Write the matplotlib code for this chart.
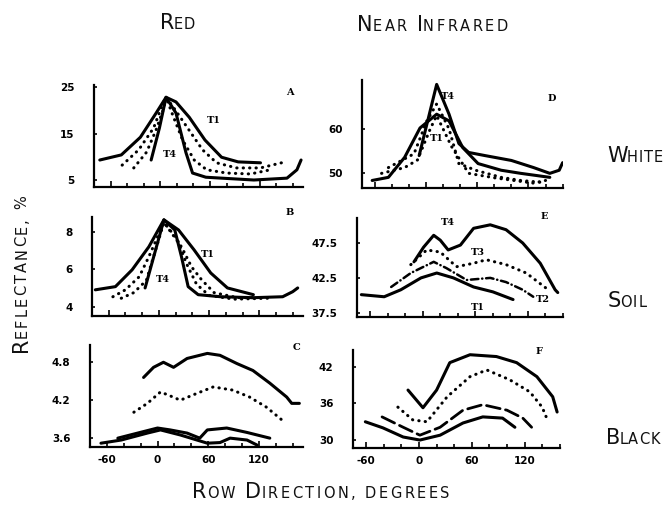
import numpy as np
import matplotlib
matplotlib.use("Agg")
import matplotlib.pyplot as plt

# --- Red band ---------------------------------------------------------------
a_t1_x = [-73, -47, -24, -5, 7, 19, 35, 54, 74, 94, 121]
a_t1_y = [9.3, 10.4, 14.2, 19.4, 22.8, 21.8, 18.5, 13.6, 9.9, 8.9, 8.7]
a_t2_x = [-46, -26, -8, 3.5, 7, 18, 33, 51, 68, 92, 121, 151]
a_t2_y = [8.2, 11.5, 16.2, 21.6, 22.8, 20.1, 16.2, 11.5, 8.7, 7.6, 7.6, 8.9]
a_t3_x = [-32, -16.5, -5, 3.5, 7, 15, 27, 41, 56, 80, 109, 133]
a_t3_y = [7.6, 11.0, 15.8, 20.1, 22.8, 19.0, 13.6, 9.3, 7.2, 6.5, 6.3, 7.2]
a_t4_x = [-11, -1, 7, 19, 31, 39, 55, 74, 113, 153, 165, 170]
a_t4_y = [9.3, 16.2, 22.8, 19.4, 10.9, 6.5, 5.6, 5.4, 5.0, 5.4, 7.2, 9.3]

b_t1_x = [-76, -52, -32, -12, 6, 23.5, 42, 62, 82, 113]
b_t1_y = [4.9, 5.07, 5.97, 7.2, 8.64, 8.1, 7.04, 5.8, 5.0, 4.64]
b_t2_x = [-55, -40, -23.5, -12, 6, 27, 39, 51, 66, 94, 113]
b_t2_y = [4.53, 4.9, 5.6, 6.67, 8.5, 7.2, 6.13, 5.44, 4.75, 4.48, 4.48]
b_t3_x = [-45, -30, -15, 6, 22, 33, 45, 60, 90, 130]
b_t3_y = [4.45, 4.75, 5.4, 8.5, 7.6, 6.3, 5.2, 4.6, 4.4, 4.45]
b_t4_x = [-16.5, 6, 19, 27, 35, 47, 74, 113, 148, 160, 166]
b_t4_y = [5.0, 8.64, 8.1, 6.67, 5.07, 4.64, 4.53, 4.48, 4.53, 4.8, 5.0]

c_1_x = [-16.5, -4.7, 7, 19, 35, 59, 74, 94, 113, 133, 153, 159, 168]
c_1_y = [4.56, 4.72, 4.8, 4.72, 4.86, 4.94, 4.91, 4.78, 4.67, 4.47, 4.25, 4.15, 4.15]
c_2_x = [-28, -12, 3.5, 13, 27, 47, 66, 89, 109, 129, 148]
c_2_y = [4.01, 4.15, 4.33, 4.28, 4.2, 4.31, 4.41, 4.36, 4.25, 4.09, 3.88]
c_3_x = [-47, -23.5, 0, 15, 35, 50, 59, 82, 106, 133]
c_3_y = [3.6, 3.68, 3.76, 3.73, 3.68, 3.6, 3.73, 3.76, 3.69, 3.6]
c_4_x = [-67, -43, -12, 3.5, 27, 59, 74, 86, 106, 118]
c_4_y = [3.52, 3.57, 3.68, 3.73, 3.65, 3.52, 3.53, 3.6, 3.57, 3.49]

# --- Near infrared band -----------------------------------------------------
d_t1_x = [-63, -44, -25, -7, 12.5, 27, 43, 61, 88, 111, 145]
d_t1_y = [48.4, 49.1, 53.6, 60.2, 63.3, 61.8, 55.8, 52.2, 50.7, 50.0, 49.1]
d_t2_x = [-44, -14, 1, 12.5, 27, 38.5, 58, 88, 111, 134]
d_t2_y = [51.3, 54.4, 61.8, 65.6, 60, 52.2, 50.7, 49.1, 48.4, 48]
d_t3_x = [-52, -25, -10, 5, 12.5, 30, 50, 80, 126, 140]
d_t3_y = [50, 51.3, 53, 60, 63, 56, 50, 49, 47.8, 48.4]
d_t4_x = [-8, 12.5, 27, 38.5, 50, 69, 100, 126, 145, 156, 160]
d_t4_y = [54, 70, 63.3, 56.7, 54.7, 54, 52.9, 51.3, 50, 50.7, 52.4]

e_t1_x = [-70, -44, -25, -2, 16, 35, 58, 80, 103]
e_t1_y = [40.1, 39.8, 40.8, 42.5, 43.2, 42.5, 41.2, 40.5, 39.4]
e_t2_x = [-36, -13.6, 12.5, 27, 50, 77, 95, 114, 126]
e_t2_y = [41.2, 43.2, 44.8, 43.9, 42.2, 42.5, 41.9, 40.8, 39.8]
e_t3_x = [-13.6, 4.5, 20, 38.5, 58, 72.5, 95, 118, 140]
e_t3_y = [44.4, 46.5, 46.2, 44.1, 44.6, 45.1, 44.4, 43.2, 41.1]
e_t4_x = [-10, 1, 12.5, 20, 29, 43, 58, 77, 95, 114, 134, 151, 154]
e_t4_y = [44.8, 46.9, 48.6, 47.9, 46.5, 47.2, 49.6, 50.1, 49.4, 47.5, 44.6, 40.8, 40.4]

f_1_x = [-12.5, 4.5, 20, 35, 58, 88, 111, 134, 152, 157]
f_1_y = [38.2, 35.3, 38.2, 42.7, 44.0, 43.7, 42.7, 40.4, 37.1, 34.6]
f_2_x = [-24, -7, 9, 32, 58, 77, 103, 126, 140, 146]
f_2_y = [35.4, 33.3, 33, 37.1, 40.4, 41.5, 39.9, 37.9, 35.4, 33.3]
f_3_x = [-42, -18, 1, 24, 50, 72.5, 100, 118, 128]
f_3_y = [33.8, 32.1, 30.8, 32.1, 34.9, 35.8, 34.9, 33.6, 32.1]
f_4_x = [-61, -41, -18, 1, 24, 50, 72.5, 95, 109]
f_4_y = [33, 32, 30.5, 30, 30.8, 32.8, 33.8, 33.6, 32.1]

x_major = [-60, 0, 60, 120]

SOLID = dict(color="black", lw=2.2, solid_capstyle="round", solid_joinstyle="round")
DOTS = dict(color="black", lw=2.2, linestyle=(0, (0.1, 2.0)), dash_capstyle="round")
DASH = dict(color="black", lw=2.0, linestyle=(0, (5, 2)), dash_capstyle="round")
DASHDOT = dict(color="black", lw=1.8, linestyle=(0, (3, 1.5, 0.1, 1.5)), dash_capstyle="round")

TICKFONT = dict(family="DejaVu Sans", weight="bold", size=7.5)
TAGFONT = dict(family="DejaVu Serif", weight="bold", size=7)

fig = plt.figure(figsize=(6.69, 5.22), dpi=100)


def make_panel(rect, xlim, ylim, yticks, ylabels, letter, letter_xy, show_x=False):
    ax = fig.add_axes(rect)
    ax.set_xlim(*xlim)
    ax.set_ylim(*ylim)
    for s in ["top", "right"]:
        ax.spines[s].set_visible(False)
    for s in ["left", "bottom"]:
        ax.spines[s].set_linewidth(1.6)
    ax.set_xticks(x_major)
    ax.set_xticks(np.arange(-60, 161, 20), minor=True)
    ax.set_yticks(yticks)
    ax.tick_params(axis="both", which="both", direction="in", width=1.2)
    ax.tick_params(axis="x", which="major", length=4)
    ax.tick_params(axis="x", which="minor", length=3)
    ax.tick_params(axis="y", length=2, pad=14)
    ax.set_yticklabels(ylabels, fontdict=TICKFONT)
    if show_x:
        ax.set_xticklabels([str(v) for v in x_major], fontdict=TICKFONT)
        ax.tick_params(axis="x", pad=6)
    else:
        ax.set_xticklabels([])
    ax.text(letter_xy[0], letter_xy[1], letter, transform=ax.transAxes,
            ha="center", va="center", **TAGFONT)
    return ax


xl_left = (-80, 172)
xl_right = (-75, 160)

ax_a = make_panel([0.1405, 0.6418, 0.312, 0.195], xl_left, (3.5, 25.4),
                  [5, 15, 25], ["5", "15", "25"], "A", (0.94, 0.93))
ax_a.plot(a_t1_x, a_t1_y, **SOLID)
ax_a.plot(a_t2_x, a_t2_y, **DOTS)
ax_a.plot(a_t3_x, a_t3_y, **DOTS)
ax_a.plot(a_t4_x, a_t4_y, **SOLID)
ax_a.text(65, 17.9, "T1", ha="center", va="center", **TAGFONT)
ax_a.text(12, 10.4, "T4", ha="center", va="center", **TAGFONT)

ax_b = make_panel([0.1375, 0.3946, 0.315, 0.19], xl_left, (3.5, 8.8),
                  [4, 6, 8], ["4", "6", "8"], "B", (0.94, 1.04))
ax_b.plot(b_t1_x, b_t1_y, **SOLID)
ax_b.plot(b_t2_x, b_t2_y, **DOTS)
ax_b.plot(b_t3_x, b_t3_y, **DOTS)
ax_b.plot(b_t4_x, b_t4_y, **SOLID)
ax_b.text(58, 6.77, "T1", ha="center", va="center", **TAGFONT)
ax_b.text(5, 5.44, "T4", ha="center", va="center", **TAGFONT)

ax_c = make_panel([0.1345, 0.1437, 0.318, 0.195], xl_left, (3.46, 5.07),
                  [3.6, 4.2, 4.8], ["3.6", "4.2", "4.8"], "C", (0.97, 0.98), show_x=True)
ax_c.plot(c_1_x, c_1_y, **SOLID)
ax_c.plot(c_2_x, c_2_y, **DOTS)
ax_c.plot(c_3_x, c_3_y, **SOLID)
ax_c.plot(c_4_x, c_4_y, **SOLID)

ax_d = make_panel([0.541, 0.6398, 0.300, 0.207], xl_right, (46.7, 71),
                  [50, 60], ["50", "60"], "D", (0.945, 0.83))
ax_d.plot(d_t1_x, d_t1_y, **SOLID)
ax_d.plot(d_t2_x, d_t2_y, **DOTS)
ax_d.plot(d_t3_x, d_t3_y, **DOTS)
ax_d.plot(d_t4_x, d_t4_y, **SOLID)
ax_d.text(26, 67.3, "T4", ha="center", va="center", **TAGFONT)
ax_d.text(12.5, 57.8, "T1", ha="center", va="center", **TAGFONT)

ax_e = make_panel([0.5336, 0.3927, 0.308, 0.19], xl_right, (36.9, 51.1),
                  [37.5, 42.5, 47.5], ["37.5", "42.5", "47.5"], "E", (0.91, 1.01))
ax_e.plot(e_t1_x, e_t1_y, **SOLID)
ax_e.plot(e_t2_x, e_t2_y, **DASHDOT)
ax_e.plot(e_t3_x, e_t3_y, **DOTS)
ax_e.plot(e_t4_x, e_t4_y, **SOLID)
ax_e.text(29, 50.4, "T4", ha="center", va="center", **TAGFONT)
ax_e.text(63, 46.2, "T3", ha="center", va="center", **TAGFONT)
ax_e.text(137, 39.4, "T2", ha="center", va="center", **TAGFONT)
ax_e.text(63, 38.2, "T1", ha="center", va="center", **TAGFONT)

ax_f = make_panel([0.5277, 0.1418, 0.309, 0.188], xl_right, (28.7, 44.8),
                  [30, 36, 42], ["30", "36", "42"], "F", (0.9, 0.98), show_x=True)
ax_f.plot(f_1_x, f_1_y, **SOLID)
ax_f.plot(f_2_x, f_2_y, **DOTS)
ax_f.plot(f_3_x, f_3_y, **DASH)
ax_f.plot(f_4_x, f_4_y, **SOLID)

# overlay for the lettering (small capitals, letter-spaced)
bg = fig.add_axes([0, 0, 1, 1], zorder=-1)
bg.axis("off")
DESC = 0.236  # descent of DejaVu Sans, fraction of the em


def small_caps(x, y, text, big=15, small=10.5, vertical=False, gap=7, track=1.8):
    prev = None
    last = None
    shift = (big - small) * DESC
    for w_i, word in enumerate(text.split(" ")):
        for c_i, ch in enumerate(word):
            size = big if ch.isupper() else small
            kw = dict(fontsize=size, family="DejaVu Sans", color="#111111")
            s = ch.upper()
            if prev is None:
                if vertical:
                    prev = bg.text(x, y, s, transform=bg.transAxes, rotation=90,
                                   ha="right", va="bottom", **kw)
                else:
                    prev = bg.text(x, y, s, transform=bg.transAxes,
                                   ha="left", va="bottom", **kw)
                last = size
                continue
            if c_i == 0:
                step = gap
            elif last == big:
                step = track - 1.6  # big capital already carries its own side bearing
            else:
                step = track
            d = shift if size < last else (-shift if size > last else 0)
            if vertical:
                prev = bg.annotate(s, xy=(1, 1), xycoords=prev, xytext=(-d, step),
                                   textcoords="offset points", rotation=90,
                                   ha="right", va="bottom", **kw)
            else:
                prev = bg.annotate(s, xy=(1, 0), xycoords=prev, xytext=(step, d),
                                   textcoords="offset points",
                                   ha="left", va="bottom", **kw)
            last = size


small_caps(160 / 669, 1 - 33 / 522, "Red", track=0.8)
small_caps(357 / 669, 1 - 35 / 522, "Near Infrared")
small_caps(607 / 669, 1 - 166 / 522, "White", track=0.8)
small_caps(608 / 669, 1 - 311 / 522, "Soil", track=0.8)
small_caps(606 / 669, 1 - 448 / 522, "Black", track=0.8)
small_caps(192 / 669, 1 - 502 / 522, "Row Direction, degrees")
small_caps(31 / 669, 1 - 352 / 522, "Reflectance, %", vertical=True, track=1.5)

fig.savefig("out.png", dpi=100, facecolor="white")
